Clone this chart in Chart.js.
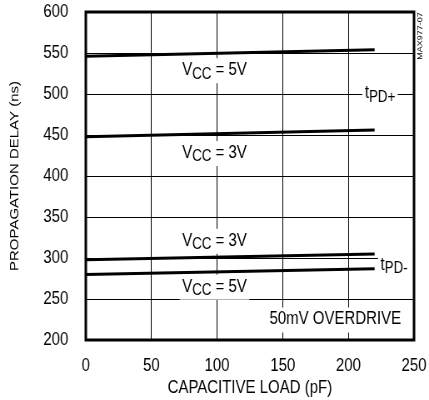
<!DOCTYPE html>
<html>
<head>
<meta charset="utf-8">
<script src="https://cdn.jsdelivr.net/npm/chart.js@4.4.1/dist/chart.umd.min.js"></script>
<style>
  html, body { margin: 0; padding: 0; background: #fff; overflow: hidden; }
  #wrap { width: 515px; height: 400px; transform: scaleX(0.833); transform-origin: 0 0; }
</style>
</head>
<body>
<div id="wrap"><canvas id="c" width="515" height="400"></canvas></div>
<script>
// ---- data ----
const capacitance = [0, 220];               // pF
const tpdPlus5V  = [546, 554];              // ns
const tpdPlus3V  = [448, 456];
const tpdMinus3V = [298, 305];
const tpdMinus5V = [280, 287];
const xTickValues = [0, 50, 100, 150, 200, 250];
const yTickValues = [200, 250, 300, 350, 400, 450, 500, 550, 600];

const FONT = "'Liberation Sans', Arial, sans-serif";

function pts(ys) { return capacitance.map((x, i) => ({ x: x, y: ys[i] })); }

function ds(ys) {
  return { data: pts(ys), borderColor: '#000', borderWidth: 3, pointRadius: 0, tension: 0, fill: false };
}

// annotation labels (anchored in data coordinates)
const notes = [
  { x: 98, y: 529, parts: [['V', 0], ['CC', 1], [' = 5V', 0]], align: 'center' },
  { x: 98, y: 428, parts: [['V', 0], ['CC', 1], [' = 3V', 0]], align: 'center' },
  { x: 98, y: 321, parts: [['V', 0], ['CC', 1], [' = 3V', 0]], align: 'center' },
  { x: 98, y: 265, parts: [['V', 0], ['CC', 1], [' = 5V', 0]], align: 'center' },
  { x: 212.5, y: 501, parts: [['t', 0], ['PD+', 1]], align: 'left' },
  { x: 224.5, y: 292, parts: [['t', 0], ['PD-', 1]], align: 'left', toEdge: true },
  { x: 190, y: 225, parts: [['50mV OVERDRIVE', 0]], align: 'center' }
];

const labelPlugin = {
  id: 'labels',
  beforeDatasetsDraw(chart) {
    const ctx = chart.ctx;
    const xs = chart.scales.x, ys = chart.scales.y;
    const a = chart.chartArea;
    ctx.save();
    ctx.textBaseline = 'middle';
    ctx.textAlign = 'left';
    notes.forEach(n => {
      let w = 0;
      n.parts.forEach(p => {
        ctx.font = (p[1] ? '16px ' : '18px ') + FONT;
        w += ctx.measureText(p[0]).width;
      });
      const px = xs.getPixelForValue(n.x);
      const py = ys.getPixelForValue(n.y);
      let x0 = n.align === 'center' ? px - w / 2 : px;
      ctx.fillStyle = '#fff';
      const bw = n.toEdge ? (a.right - x0 + 3) : (w + 6);
      ctx.fillRect(x0 - 3, py - 12, bw, 25);
      ctx.fillStyle = '#000';
      let x = x0;
      n.parts.forEach(p => {
        ctx.font = (p[1] ? '16px ' : '18px ') + FONT;
        ctx.fillText(p[0], x, py + (p[1] ? 4 : 0));
        x += ctx.measureText(p[0]).width;
      });
    });
    ctx.restore();
  },
  afterDatasetsDraw(chart) {
    const ctx = chart.ctx;
    const a = chart.chartArea;
    ctx.save();
    ctx.strokeStyle = '#000';
    ctx.lineWidth = 3;
    ctx.strokeRect(a.left, a.top, a.right - a.left, a.bottom - a.top);
    // figure id
    ctx.translate(505, 36);
    ctx.rotate(-Math.PI / 2);
    ctx.font = '9px ' + FONT;
    ctx.textAlign = 'center';
    ctx.textBaseline = 'middle';
    ctx.fillStyle = '#000';
    ctx.fillText('MAX977-07', 0, 0);
    ctx.restore();
  }
};

function zeroPad(s) { s.paddingTop = 0; s.paddingBottom = 0; s.paddingLeft = 0; s.paddingRight = 0; }

new Chart(document.getElementById('c'), {
  type: 'line',
  data: {
    datasets: [ds(tpdPlus5V), ds(tpdPlus3V), ds(tpdMinus3V), ds(tpdMinus5V)]
  },
  options: {
    responsive: false,
    animation: false,
    devicePixelRatio: 1,
    layout: { padding: { left: 0, top: 12, right: 18, bottom: 0 } },
    plugins: { legend: { display: false }, tooltip: { enabled: false } },
    scales: {
      x: {
        type: 'linear',
        min: xTickValues[0],
        max: xTickValues[xTickValues.length - 1],
        afterBuildTicks(s) { s.ticks = xTickValues.map(v => ({ value: v })); },
        afterFit(s) { s.height = 60; zeroPad(s); },
        ticks: { color: '#000', font: { family: FONT, size: 18 }, padding: 15, maxRotation: 0 },
        grid: { color: '#000', lineWidth: 1, drawTicks: false },
        border: { display: false },
        title: { display: true, text: 'CAPACITIVE LOAD (pF)', color: '#000',
                 font: { family: FONT, size: 18, lineHeight: 1 }, padding: { top: 0, bottom: 3 } }
      },
      y: {
        type: 'linear',
        min: yTickValues[0],
        max: yTickValues[yTickValues.length - 1],
        afterBuildTicks(s) { s.ticks = yTickValues.map(v => ({ value: v })); },
        afterFit(s) { s.width = 103; zeroPad(s); },
        ticks: { color: '#000', font: { family: FONT, size: 18 }, padding: 21 },
        grid: { color: '#000', lineWidth: 1, drawTicks: false },
        border: { display: false },
        title: { display: true, text: 'PROPAGATION DELAY (ns)', color: '#000',
                 font: { family: FONT, size: 15, lineHeight: 1 }, padding: { top: 10, bottom: 0 } }
      }
    }
  },
  plugins: [labelPlugin]
});
</script>
</body>
</html>
